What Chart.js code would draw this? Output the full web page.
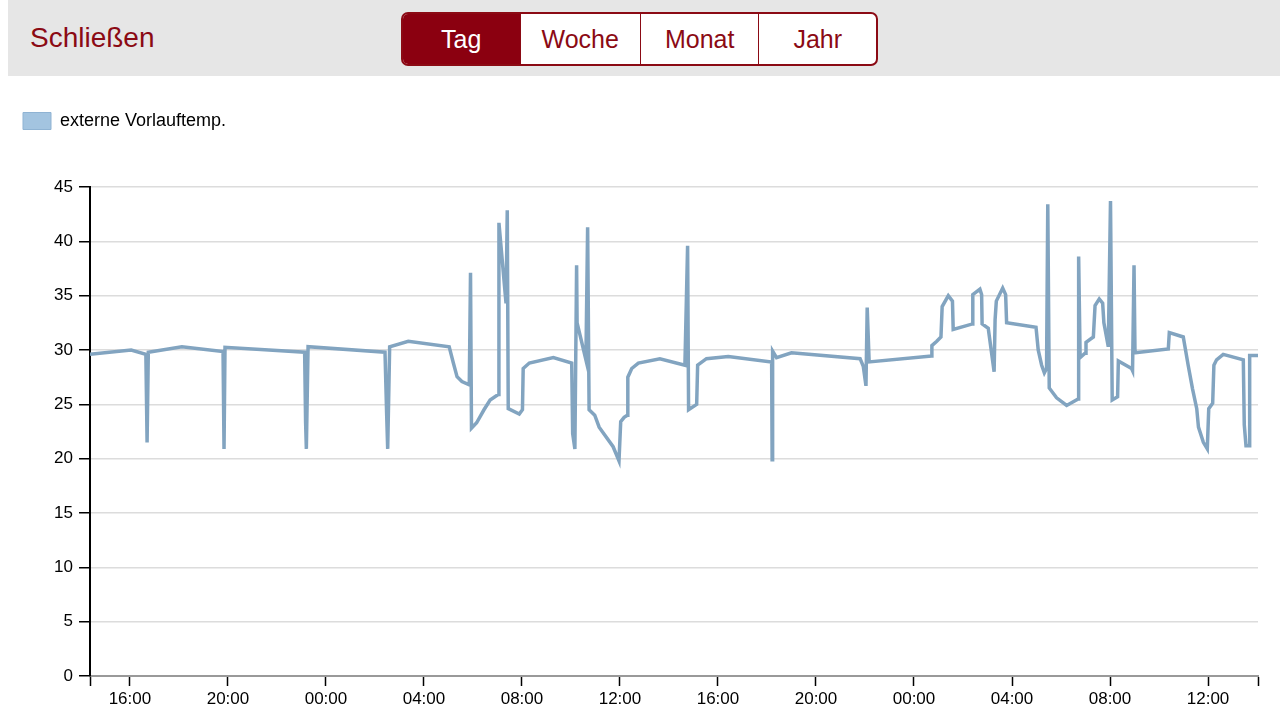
<!DOCTYPE html>
<html lang="de">
<head>
<meta charset="utf-8">
<title>externe Vorlauftemp.</title>
<script src="https://cdn.jsdelivr.net/npm/chart.js@4.4.1/dist/chart.umd.min.js"></script>
<style>
  html, body { margin: 0; padding: 0; background: #fff; }
  body { width: 1280px; height: 719px; position: relative; overflow: hidden;
         font-family: "Helvetica Neue", Helvetica, "Liberation Sans", Arial, sans-serif; }
  .topbar { position: absolute; left: 8px; top: 0; width: 1272px; height: 76px; background: #e6e6e6; }
  .close { position: absolute; left: 22px; top: 22px; font-size: 28px; color: #8b0a14; }
  .range { position: absolute; left: 393px; top: 12px; height: 54px; width: 477px; display: flex;
           border: 2px solid #8b0a14; border-radius: 7px; box-sizing: border-box; overflow: hidden; background: #fff; }
  .range div { height: 100%; display: flex; align-items: center; justify-content: center;
               font-size: 25px; color: #8b0a14; border-left: 1.5px solid #8b0a14; box-sizing: border-box; }
  .range div:first-child { border-left: none; }
  .range .active { background: #8b0010; color: #fff; }
  #wrap { position: absolute; left: 0; top: 80px; width: 1280px; height: 639px; }
</style>
</head>
<body>
<div class="topbar">
  <div class="close">Schließen</div>
  <div class="range">
    <div class="active" style="width:117px">Tag</div>
    <div style="width:121px">Woche</div>
    <div style="width:119px">Monat</div>
    <div style="width:118px">Jahr</div>
  </div>
</div>
<div id="wrap"><canvas id="temp__chart"></canvas></div>
<script>
// hours counted from 00:00 of the first day, values in degrees
const seriesLabel = 'externe Vorlauftemp.';
const hours = [
  14.37, 16.05, 16.65, 16.70, 16.75, 18.12, 19.80, 19.84, 19.88, 23.13,
  23.17, 23.20, 23.27, 26.41, 26.48, 26.52, 26.60, 27.36, 29.03, 29.20,
  29.35, 29.55, 29.85, 29.90, 29.94, 30.15, 30.45, 30.70, 31.03, 31.06,
  31.35, 31.40, 31.44, 31.89, 32.02, 32.05, 32.30, 33.28, 34.03, 34.07,
  34.16, 34.23, 34.25, 34.61, 34.68, 34.74, 34.97, 35.15, 35.72, 35.96,
  36.03, 36.17, 36.30, 36.32, 36.48, 36.75, 37.63, 38.65, 38.76, 38.80,
  39.13, 39.17, 39.53, 40.42, 42.19, 42.21, 42.23, 42.39, 43.00, 45.80,
  45.93, 46.04, 46.09, 46.17, 48.72, 48.73, 48.93, 49.10, 49.15, 49.40,
  49.57, 49.60, 50.39, 50.40, 50.69, 50.76, 50.78, 51.03, 51.27, 51.31,
  51.36, 51.62, 51.74, 51.78, 52.98, 53.07, 53.21, 53.32, 53.41, 53.46,
  53.52, 53.82, 54.23, 54.70, 54.72, 54.78, 54.98, 55.02, 55.32, 55.39,
  55.56, 55.70, 55.75, 55.93, 56.02, 56.09, 56.31, 56.34, 56.88, 56.92,
  56.98, 57.02, 58.38, 58.42, 58.99, 59.19, 59.37, 59.54, 59.61, 59.81,
  59.97, 60.03, 60.19, 60.24, 60.35, 60.62, 61.44, 61.48, 61.55, 61.69,
  61.70, 62.04
];
const temps = [
  29.6, 30.0, 29.6, 21.5, 29.8, 30.3, 29.85, 20.9, 30.25, 29.8,
  23.3, 20.9, 30.3, 29.8, 23.9, 20.9, 30.3, 30.8, 30.3, 28.8,
  27.55, 27.1, 26.8, 37.1, 22.8, 23.3, 24.5, 25.4, 25.9, 41.7,
  34.3, 42.85, 24.6, 24.1, 24.5, 28.3, 28.8, 29.3, 28.8, 22.3,
  20.9, 37.8, 32.5, 29.1, 41.3, 24.5, 24.0, 22.9, 21.1, 19.8,
  23.4, 23.8, 24.0, 27.5, 28.3, 28.8, 29.2, 28.6, 39.6, 24.5,
  25.0, 28.6, 29.2, 29.4, 28.9, 19.9, 29.9, 29.3, 29.75, 29.2,
  28.5, 26.7, 33.9, 28.9, 29.45, 30.4, 30.8, 31.2, 34.0, 35.0,
  34.5, 31.9, 32.4, 35.1, 35.6, 35.1, 32.4, 32.0, 28.0, 32.8,
  34.5, 35.7, 35.1, 32.5, 32.1, 30.0, 28.6, 27.9, 28.3, 43.4,
  26.5, 25.6, 24.9, 25.5, 38.6, 29.3, 29.7, 30.7, 31.2, 34.1,
  34.7, 34.3, 32.5, 30.3, 43.7, 25.4, 25.7, 29.0, 28.3, 28.1,
  37.8, 29.75, 30.1, 31.6, 31.2, 28.6, 26.4, 24.6, 22.9, 21.5,
  20.9, 24.6, 25.1, 28.6, 29.1, 29.6, 29.1, 23.1, 21.2, 21.2,
  29.5, 29.5
];
// x axis window and labelled ticks (every 4 hours)
const xMin = 14.37;
const xMax = 62.04;
const tickHours = [16, 20, 24, 28, 32, 36, 40, 44, 48, 52, 56, 60];
const yTicks = [0, 5, 10, 15, 20, 25, 30, 35, 40, 45];

Chart.defaults.font.family = '"Helvetica Neue", Helvetica, "Liberation Sans", Arial, sans-serif';
Chart.defaults.color = '#000';

// push the plot area down below the legend
const legendGap = {
  id: 'legendGap',
  beforeInit(chart) {
    const fit = chart.legend.fit;
    chart.legend.fit = function () {
      fit.bind(chart.legend)();
      this.height += 47;
    };
  }
};

const ctx = document.getElementById('temp__chart').getContext('2d');
const tempChart = new Chart(ctx, {
  type: 'line',
  data: {
    datasets: [{
      label: seriesLabel,
      data: hours.map((h, i) => ({ x: h, y: temps[i] })),
      borderColor: '#82a4c0',
      backgroundColor: '#a3c4e0',
      borderWidth: 3.5,
      pointRadius: 0,
      tension: 0,
      fill: false
    }]
  },
  options: {
    responsive: true,
    maintainAspectRatio: false,
    animation: false,
    layout: { padding: { top: 9, right: 22, left: 0, bottom: 0 } },
    plugins: {
      legend: {
        align: 'start',
        labels: {
          padding: 23,
          boxWidth: 28,
          boxHeight: 17,
          font: { size: 18 },
          generateLabels: chart => [{
            text: seriesLabel,
            fillStyle: '#a3c4e0',
            strokeStyle: '#8fb3d3',
            lineWidth: 1,
            datasetIndex: 0
          }]
        }
      },
      tooltip: { enabled: false }
    },
    scales: {
      x: {
        type: 'linear',
        min: xMin,
        max: xMax,
        afterBuildTicks: scale => {
          scale.ticks = [xMin, ...tickHours, xMax].map(v => ({ value: v }));
        },
        afterFit: scale => { scale.height = 43; },
        ticks: {
          autoSkip: false,
          maxRotation: 0,
          padding: 3,
          font: { size: 17 },
          callback: value => tickHours.includes(value)
            ? String(value % 24).padStart(2, '0') + ':00'
            : ''
        },
        grid: {
          drawOnChartArea: false,
          tickLength: 10,
          tickColor: '#000',
          tickWidth: 1.5
        },
        border: { color: '#999', width: 2 }
      },
      y: {
        min: 0,
        max: 45,
        afterBuildTicks: scale => {
          scale.ticks = yTicks.map(v => ({ value: v }));
        },
        afterFit: scale => { scale.width = 90; },
        ticks: { padding: 6, font: { size: 17 } },
        grid: {
          color: '#dcdcdc',
          lineWidth: 1.5,
          tickLength: 11,
          tickColor: '#000',
          tickWidth: 1.5
        },
        border: { color: '#000', width: 2 }
      }
    }
  },
  plugins: [legendGap]
});
</script>
</body>
</html>
